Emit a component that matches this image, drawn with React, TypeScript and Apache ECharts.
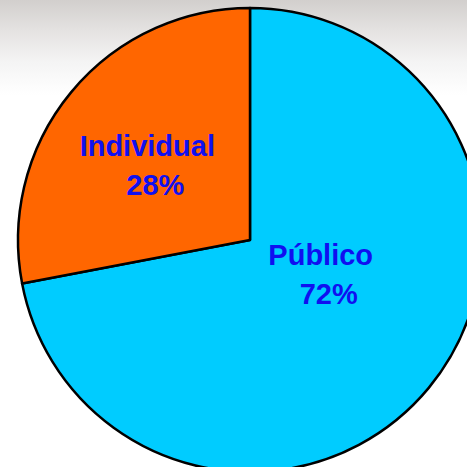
import React, { useEffect, useRef } from "react";
import * as echarts from "echarts";

const categories = ["Público", "Individual"];
const values = [72, 28];
const colors = ["#00CCFF", "#FF6600"];

export default function App() {
  const ref = useRef<HTMLDivElement>(null);
  useEffect(() => {
    if (!ref.current) return;
    const chart = echarts.init(ref.current, undefined, { renderer: "svg" });
    const offsets = [
      [-13, -41],
      [-3, 1],
    ];
    const font = "Arial, 'Liberation Sans', sans-serif";
    chart.setOption({
      animation: false,
      backgroundColor: "transparent",
      series: [
        {
          type: "pie",
          center: [250, 240],
          radius: 232,
          startAngle: 90,
          clockwise: true,
          silent: true,
          data: categories.map((c, i) => ({
            name: c,
            value: values[i],
            itemStyle: { color: colors[i] },
          })),
          itemStyle: { borderColor: "#000", borderWidth: 2.5 },
          label: {
            show: true,
            position: "inside",
            formatter: "{n|{b}}\n{p|{d}%}",
            color: "#1010f0",
            fontFamily: font,
            fontWeight: "bold",
            fontSize: 29,
            lineHeight: 39,
            align: "center",
            rich: {
              n: {
                color: "#1010f0",
                fontFamily: font,
                fontWeight: "bold",
                fontSize: 29,
                lineHeight: 39,
                padding: [0, 16, 0, 0],
              },
              p: {
                color: "#1010f0",
                fontFamily: font,
                fontWeight: "bold",
                fontSize: 29,
                lineHeight: 39,
              },
            },
          },
          labelLine: { show: false },
          labelLayout: (p: any) => ({
            dx: offsets[p.dataIndex][0],
            dy: offsets[p.dataIndex][1],
          }),
        },
      ],
    });
    return () => chart.dispose();
  }, []);
  return (
    <div
      ref={ref}
      style={{
        position: "absolute",
        left: 0,
        top: 0,
        width: 467,
        height: 467,
        overflow: "hidden",
        background:
          "linear-gradient(to bottom, #d2cfcd 0px, #e4e2e1 30px, #f4f4f4 62px, #ffffff 95px)",
      }}
    />
  );
}
